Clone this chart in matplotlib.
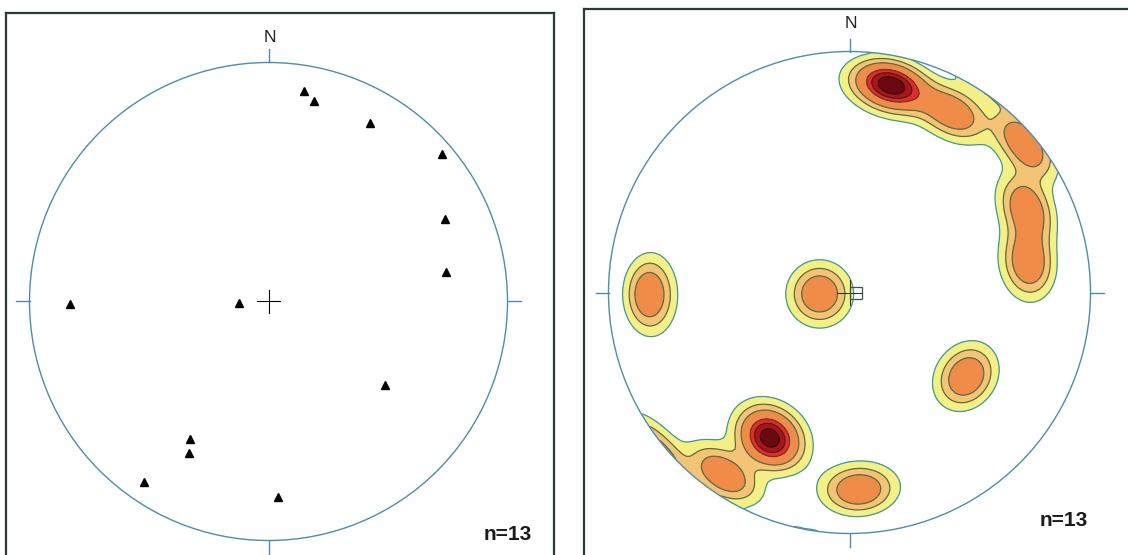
import numpy as np
import matplotlib
matplotlib.use("Agg")
import matplotlib.pyplot as plt
from matplotlib.patches import Circle

# pole orientations (lower hemisphere)
trend = [9.7, 12.8, 29.6, 49.7, 64.8, 80.4, 269.4, 267.3, 125.7, 209.7, 207.8, 214.7, 177.3]
plunge = [11.6, 15.0, 15.0, 5.4, 19.7, 25.7, 18.0, 79.9, 40.0, 34.3, 29.2, 9.1, 19.2]
n_label = "n=13"

# density contour levels and colours
levels = [0.16, 0.36, 0.6, 1.08, 1.33, 1.6, 9.0]
fill_colors = ["#f5f084", "#f2c474", "#ee8c48", "#e42c26", "#a8161c", "#6a0a10"]
line_colors = ["#3c9a9a", "#5d6c48", "#5d6c48", "#6a3a2a", "#5a1a1a", "#3a0a0a"]
kappa = 92.0

circle_col = "#4a8db5"
frame_col = "#2c3a3a"


def project(tr, pl):
    # equal-area (Schmidt) projection, unit radius
    tr = np.radians(tr)
    pl = np.radians(pl)
    r = np.sqrt(2) * np.sin((np.pi / 2 - pl) / 2)
    return r * np.sin(tr), r * np.cos(tr)


def to_vec(tr, pl):
    tr = np.radians(tr)
    pl = np.radians(pl)
    return np.stack([np.sin(tr) * np.cos(pl), np.cos(tr) * np.cos(pl), -np.sin(pl)], axis=-1)


def draw_net(ax, xl, yl, r_px, n_y):
    ax.set_xlim(*xl)
    ax.set_ylim(*yl)
    ax.set_aspect("equal")
    ax.set_xticks([])
    ax.set_yticks([])
    for s in ax.spines.values():
        s.set_color(frame_col)
        s.set_linewidth(1.6)
    ax.spines["bottom"].set_visible(False)
    circ = Circle((0, 0), 1.0, fill=False, ec=circle_col, lw=1.0, zorder=5)
    ax.add_patch(circ)
    t = 13 / r_px
    ax.plot([0, 0], [1, 1 + t], color=circle_col, lw=1.0)
    ax.plot([0, 0], [-1, -1 - t], color=circle_col, lw=1.0)
    ax.plot([1, 1 + t], [0, 0], color=circle_col, lw=1.0)
    ax.plot([-1, -1 - t], [0, 0], color=circle_col, lw=1.0)
    ax.text(0.005, n_y, "N", ha="center", va="center", fontsize=12.5,
            family="Liberation Sans", color="#222222")
    return circ


W, H = 1128, 555
fig = plt.figure(figsize=(W / 100, H / 100), dpi=100)
fig.patch.set_facecolor("white")

# left panel: frame x 6..554, y 13..(bottom) ; circle centre (268.5, 301.5), r 239
ax1 = fig.add_axes([6 / W, 0, 548 / W, (H - 13) / H])
draw_net(ax1, ((6 - 268.5) / 239, (554 - 268.5) / 239),
         ((301.5 - H) / 239, (301.5 - 13) / 239), 239, (301.5 - 37) / 239)
ax1.plot([-0.05, 0.05], [0, 0], color="black", lw=0.8)
ax1.plot([0, 0], [-0.05, 0.05], color="black", lw=0.8)
px, py = project(np.array(trend), np.array(plunge))
ax1.plot(px, py, "^", color="black", ms=5.5, ls="none", zorder=6)
ax1.text((508 - 268.5) / 239, (301.5 - 534) / 239, n_label, ha="center", va="center",
         fontsize=15, fontweight="bold", family="Liberation Sans", color="#1a1a1a")

# right panel: frame x 584..1128, y 9..(bottom) ; circle centre (849.5, 292.5), r 241
ax2 = fig.add_axes([584 / W, 0, (W - 584 + 4) / W, (H - 9) / H])
circ2 = draw_net(ax2, ((584 - 849.5) / 241, (W + 4 - 849.5) / 241),
                 ((292.5 - H) / 241, (292.5 - 9) / 241), 241, (292.5 - 23) / 241)

g = np.linspace(-1.0, 1.0, 161)
gx, gy = np.meshgrid(g, g)
rr = np.clip(np.hypot(gx, gy), 0, 1.0)
theta = 2 * np.arcsin(rr / np.sqrt(2))
gtr = np.degrees(np.arctan2(gx, gy))
gpl = 90 - np.degrees(theta)
gv = to_vec(gtr, gpl)
pv = to_vec(np.array(trend), np.array(plunge))
dens = np.zeros_like(gx)
for v in pv:
    c = np.abs(gv @ v)
    dens += np.exp(kappa * (c - 1))
dens = np.ma.masked_where(np.hypot(gx, gy) > 1.02, dens)

cf = ax2.contourf(gx, gy, dens, levels=levels, colors=fill_colors, zorder=2)
cl = ax2.contour(gx, gy, dens, levels=levels[:-1], colors=line_colors, linewidths=0.9, zorder=3)
cf.set_clip_path(circ2)
cl.set_clip_path(circ2)

ax2.plot([-0.05, 0.05], [0, 0], color="#333333", lw=0.8, zorder=6)
ax2.plot([0, 0], [-0.05, 0.05], color="#333333", lw=0.8, zorder=6)
ax2.plot([0.028], [0.0], "s", ms=9, mfc="none", mec="#335555", mew=0.9, zorder=6)
ax2.text((1064 - 849.5) / 241, (292.5 - 521) / 241, n_label, ha="center", va="center",
         fontsize=15, fontweight="bold", family="Liberation Sans", color="#1a1a1a")

fig.savefig("out.png", dpi=100, facecolor="white")
